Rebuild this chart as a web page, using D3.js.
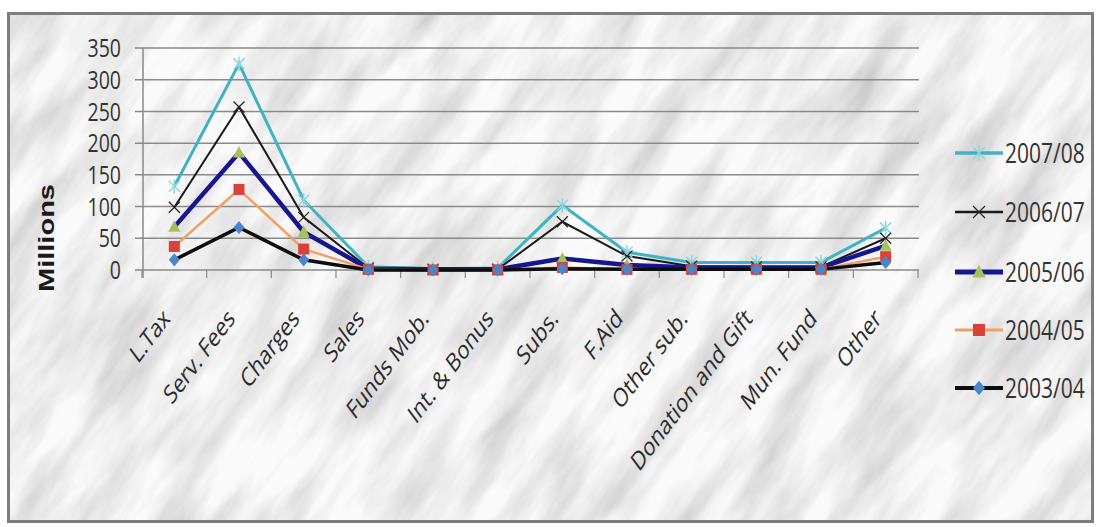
<!DOCTYPE html>
<html><head><meta charset="utf-8">
<script src="https://cdn.jsdelivr.net/npm/d3@7"></script>
<style>html,body{margin:0;padding:0;background:#fff;}svg{display:block;}</style>
</head><body>
<svg id="c" width="1100" height="527"></svg>
<script>
const categories = ["L.Tax","Serv. Fees","Charges","Sales","Funds Mob.","Int. & Bonus","Subs.","F.Aid","Other sub.","Donation and Gift","Mun. Fund","Other"];
const yTicks = [0,50,100,150,200,250,300,350];
const seriesNames = ["2007/08","2006/07","2005/06","2004/05","2003/04"];
const v200708 = [132,325,110,5,2,3,102,28,12,12,12,66];
const v200607 = [99,257,83,3,1,1,76,22,6,5,5,50];
const v200506 = [68,185,60,2,1,1,18,8,4,4,4,38];
const v200405 = [37,127,33,1,0,0,4,1,1,1,1,21];
const v200304 = [16,67,16,0,0,0,2,1,1,1,1,12];
const seriesValues = [v200708,v200607,v200506,v200405,v200304];
const lineColors = ["#3fb3c4","#1a1a1a","#16168f","#f2a063","#0d0d0d"];
const lineWidths = [3,2,4.5,2.5,3.5];
const markerTypes = ["star","cross","triangle","square","diamond"];
const markerColors = ["#8fd6e0","#222","#a8c25a","#d9413a","#4a86c8"];

const svg = d3.select("#c");
const defs = svg.append("defs");
const f = defs.append("filter").attr("id","marble").attr("x",0).attr("y",0).attr("width",1).attr("height",1);
f.append("feTurbulence").attr("type","fractalNoise").attr("baseFrequency","0.008 0.03").attr("numOctaves",5).attr("seed",11).attr("result","n");
f.append("feColorMatrix").attr("in","n").attr("type","matrix")
 .attr("values","0.75 0 0 0 0.5  0.75 0 0 0 0.5  0.75 0 0 0 0.5  0 0 0 0 1");
defs.append("clipPath").attr("id","frameClip").append("rect").attr("x",9).attr("y",14).attr("width",1083).attr("height",507);

// frame + marble
const bg = svg.append("g").attr("clip-path","url(#frameClip)");
bg.append("rect").attr("x",9).attr("y",14).attr("width",1083).attr("height",507).attr("fill","#e6e6e6");
bg.append("g").attr("transform","translate(550,270) rotate(-55)")
  .append("rect").attr("x",-800).attr("y",-800).attr("width",1600).attr("height",1600)
  .attr("filter","url(#marble)").attr("opacity",0.8);
svg.append("rect").attr("x",8.5).attr("y",13.5).attr("width",1084).attr("height",508)
  .attr("fill","none").attr("stroke","#7d7d7d").attr("stroke-width",3);

const x = d3.scaleBand().domain(categories).range([142,918]);
const y = d3.scaleLinear().domain([0,350]).range([270,48]);
const cx = d => x(d) + x.bandwidth()/2;

// gridlines
svg.append("g").selectAll("line").data(yTicks).join("line")
  .attr("x1",135).attr("x2",919).attr("y1",d=>y(d)).attr("y2",d=>y(d))
  .attr("stroke","#8a8a8a").attr("stroke-width",1.5);
// y axis line
svg.append("line").attr("x1",143).attr("x2",143).attr("y1",y(350)).attr("y2",278).attr("stroke","#8a8a8a").attr("stroke-width",1.5);
// x ticks
const bounds = categories.map(c=>x(c)).concat([918]);
svg.append("g").selectAll("line").data(bounds).join("line")
  .attr("x1",d=>d).attr("x2",d=>d).attr("y1",270).attr("y2",278).attr("stroke","#8a8a8a").attr("stroke-width",1.2);

// y tick labels
svg.append("g").selectAll("text").data(yTicks).join("text")
  .attr("transform",d=>`translate(121,${y(d)}) scale(0.75,1)`)
  .attr("text-anchor","end").attr("dy","0.35em")
  .attr("font-family","'Open Sans', sans-serif").attr("font-size",26).attr("fill","#333")
  .text(d=>d);

// y title
svg.append("text").attr("transform","translate(46,238) scale(0.75,1) rotate(-90)")
  .attr("text-anchor","middle").attr("dy","0.35em")
  .attr("font-family","'Liberation Sans', Arial, sans-serif").attr("font-weight","bold").attr("font-size",29).attr("fill","#1a1a1a")
  .text("Millions");

// category labels
svg.append("g").selectAll("text").data(categories).join("text")
  .attr("transform",d=>`translate(${cx(d)-3},${320}) scale(0.75,1) rotate(-45)`)
  .attr("text-anchor","end")
  .attr("font-family","'Open Sans', sans-serif").attr("font-size",26).attr("fill","#2a2a2a")
  .text(d=>d);

function marker(g, type, color, size){
  const s=size;
  if(type==="square") g.append("rect").attr("x",-s).attr("y",-s).attr("width",2*s).attr("height",2*s).attr("fill",color);
  else if(type==="triangle") g.append("path").attr("d",`M0,${-s*1.2}L${s*1.1},${s*0.9}L${-s*1.1},${s*0.9}Z`).attr("fill",color);
  else if(type==="diamond") g.append("path").attr("d",`M0,${-s*1.2}L${s},0L0,${s*1.2}L${-s},0Z`).attr("fill",color);
  else if(type==="cross") g.append("path").attr("d",`M${-s},${-s}L${s},${s}M${-s},${s}L${s},${-s}`).attr("stroke",color).attr("stroke-width",1.2);
  else if(type==="star") g.append("path").attr("d",`M${-s},${-s}L${s},${s}M${-s},${s}L${s},${-s}M0,${-s*1.3}L0,${s*1.3}`).attr("stroke",color).attr("stroke-width",1.5);
}

const line = d3.line().x((d,i)=>cx(categories[i])).y(d=>y(d));
const plot = svg.append("g");
seriesValues.forEach((vals,si)=>{
  plot.append("path").datum(vals).attr("d",line).attr("fill","none")
    .attr("stroke",lineColors[si]).attr("stroke-width",lineWidths[si]).attr("stroke-linejoin","miter");
});
seriesValues.forEach((vals,si)=>{
  vals.forEach((v,i)=>{
    const g = plot.append("g").attr("transform",`translate(${cx(categories[i])},${y(v)})`);
    marker(g, markerTypes[si], markerColors[si], 5.5);
  });
});

// legend
const legY = [153,212,272,330,388];
const leg = svg.append("g");
seriesNames.forEach((n,i)=>{
  const g = leg.append("g").attr("transform",`translate(0,${legY[i]})`);
  g.append("line").attr("x1",955).attr("x2",1003).attr("y1",0).attr("y2",0).attr("stroke",lineColors[i]).attr("stroke-width",lineWidths[i]+0.5);
  const m = g.append("g").attr("transform","translate(979,0)");
  marker(m, markerTypes[i], markerColors[i], 6);
  g.append("text").attr("transform","translate(1005,0) scale(0.75,1)").attr("dy","0.35em")
    .attr("font-family","'Open Sans', sans-serif").attr("font-size",28).attr("fill","#333").text(n);
});
</script>
</body></html>
